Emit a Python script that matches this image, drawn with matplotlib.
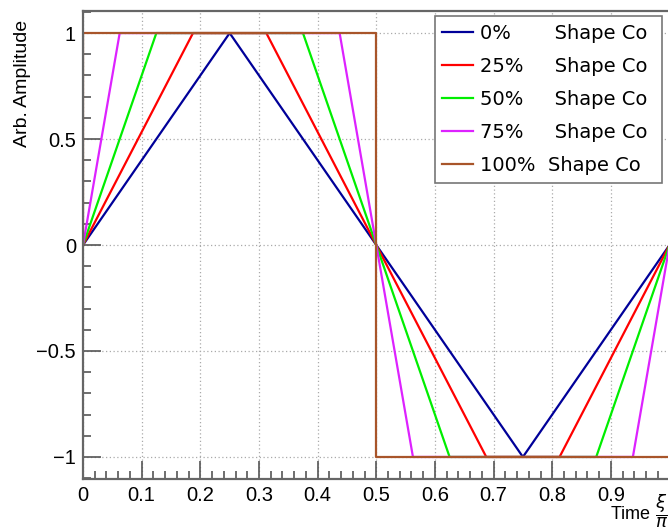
import matplotlib
matplotlib.use("Agg")
import matplotlib.pyplot as plt
from matplotlib.ticker import MultipleLocator

# vertices of each waveform (one period)
x_0 = [0, 0.25, 0.75, 1.0]
y_0 = [0, 1, -1, 0]
x_25 = [0, 0.1875, 0.3125, 0.6875, 0.8125, 1.0]
y_25 = [0, 1, 1, -1, -1, 0]
x_50 = [0, 0.125, 0.375, 0.625, 0.875, 1.0]
y_50 = [0, 1, 1, -1, -1, 0]
x_75 = [0, 0.0625, 0.4375, 0.5625, 0.9375, 1.0]
y_75 = [0, 1, 1, -1, -1, 0]
x_100 = [0, 0, 0.5, 0.5, 1.0, 1.0]
y_100 = [0, 1, 1, -1, -1, 0]

labels = ["0%       Shape Co ", "25%     Shape Co ", "50%     Shape Co ",
          "75%     Shape Co ", "100%  Shape Co "]
colors = ["#000099", "#ff0000", "#00ee00", "#dd22ff", "#a8552a"]

plt.rcParams["font.family"] = ["Liberation Sans", "DejaVu Sans"]

fig = plt.figure(figsize=(6.68, 5.27), dpi=100)
ax = fig.add_axes([0.1243, 0.0911, 0.878, 0.888])

series = [(x_0, y_0), (x_25, y_25), (x_50, y_50), (x_75, y_75), (x_100, y_100)]
for (xs, ys), lab, col in zip(series, labels, colors):
    ax.plot(xs, ys, color=col, lw=1.6, label=lab)

ax.set_xlim(0, 1.0)
ax.set_ylim(-1.104, 1.104)

ax.xaxis.set_major_locator(MultipleLocator(0.1))
ax.xaxis.set_minor_locator(MultipleLocator(0.02))
ax.yaxis.set_major_locator(MultipleLocator(0.5))
ax.yaxis.set_minor_locator(MultipleLocator(0.1))
ax.set_xticks([0, 0.1, 0.2, 0.3, 0.4, 0.5, 0.6, 0.7, 0.8, 0.9])
ax.set_xticklabels(["0", "0.1", "0.2", "0.3", "0.4", "0.5", "0.6", "0.7", "0.8", "0.9"])
ax.set_yticks([-1, -0.5, 0, 0.5, 1])
ax.set_yticklabels(["\u22121", "\u22120.5", "0", "0.5", "1"])

ax.tick_params(which="major", direction="in", length=13, width=1.2,
               color="#555555", labelsize=14.5, pad=5)
ax.tick_params(which="minor", direction="in", length=6, width=1.2, color="#555555")
ax.tick_params(top=False, right=False, which="both")

ax.grid(True, which="major", linestyle=(0, (1, 2)), color="#aaaaaa", lw=0.9)
ax.set_axisbelow(True)

for s in ["left", "bottom", "top"]:
    ax.spines[s].set_color("#666666")
    ax.spines[s].set_linewidth(1.6)
ax.spines["right"].set_visible(False)

ax.set_ylabel("Arb. Amplitude", fontsize=14, loc="top")
ax.yaxis.set_label_coords(-0.088, 0.982)
fig.text(0.913, 0.030, r"Time $\dfrac{\xi}{\pi}$", fontsize=13, ha="left", va="center")

leg = ax.legend(loc="upper right", bbox_to_anchor=(0.9935, 0.9975),
                prop={"family": "DejaVu Sans", "size": 14},
                frameon=True, fancybox=False, framealpha=1,
                edgecolor="#777777", handlelength=1.55, handletextpad=0.4,
                labelspacing=0.72, borderpad=0.4, borderaxespad=0.2)
leg.get_frame().set_linewidth(1.2)

fig.savefig("out.png", dpi=100)
